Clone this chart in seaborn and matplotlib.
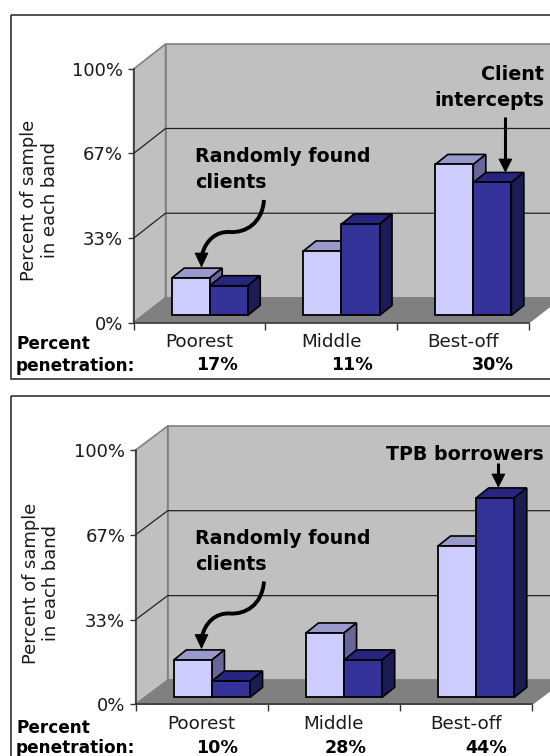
import numpy as np
import pandas as pd
import matplotlib
matplotlib.use('Agg')
import matplotlib.pyplot as plt
import seaborn as sns
from matplotlib.patches import Polygon, Rectangle, PathPatch
from matplotlib.path import Path
from matplotlib.transforms import Affine2D

bands = ['Poorest', 'Middle', 'Best-off']
top_random = [14.7, 25.4, 59.5]
top_intercepts = [11.7, 36.0, 52.4]
top_penetration = ['17%', '11%', '30%']
bottom_random = [14.7, 25.3, 59.5]
bottom_tpb = [6.4, 14.7, 78.4]
bottom_penetration = ['10%', '28%', '44%']
ytick_vals = [0, 33.3, 66.7, 100]
ytick_labels = ['0%', '33%', '67%', '100%']

W, H = 550, 756
LIGHT, DARK = '#CCCCFF', '#333399'
LIGHT_TOP, LIGHT_SIDE = '#9999CC', '#666699'
DARK_TOP, DARK_SIDE = '#262680', '#1C1C54'
WALL, FLOOR, EDGE = '#C0C0C0', '#808080', '#808080'
INK = '#1a1a1a'

sns.set_style('white')
plt.rcParams['font.family'] = ['DejaVu Sans']
fig = plt.figure(figsize=(W / 100, H / 100), dpi=100, facecolor='white')
# overlay in image pixels, y down
px = Affine2D().scale(1, -1).translate(0, H)


def fx(x):
    return x / W


def fy(y):
    return 1 - y / H


def arrow(path_pts, codes, tip, head=13, lw=2.3):
    fig.add_artist(PathPatch(Path(path_pts, codes), fc='none', ec='black', lw=lw,
                             transform=px, zorder=20, capstyle='butt'))
    tx, ty = tip
    fig.add_artist(Polygon([(tx, ty), (tx - 6.5, ty - head), (tx + 6.5, ty - head)],
                           closed=True, fc='black', ec='black', lw=0.5, transform=px, zorder=21))


def panel(left, right, y0, y100, floor_dy, base_up, vals_a, vals_b, pen, pen_x, pen_y,
          band_y, lab_x, lab_y, pct_y, name_b):
    ax = fig.add_axes([fx(left), fy(y0), (right - left) / W, (y0 - y100) / H])
    df = pd.DataFrame({'band': bands * 2,
                       'pct': vals_a + vals_b,
                       'group': ['Randomly found clients'] * 3 + [name_b] * 3})
    sns.barplot(data=df, x='band', y='pct', hue='group', palette=[LIGHT, DARK], saturation=1,
                width=0.577, gap=0, edgecolor='black', linewidth=1.3, legend=False, ax=ax)
    bars = sorted(ax.patches, key=lambda p: p.get_x())
    ax.set_xlim(-0.5, 2.5)
    ax.set_ylim(0, 100)
    ax.patch.set_alpha(0)
    ux = 3 / (right - left)
    uy = 100 / (y0 - y100)
    wx, wy = 32 * ux, floor_dy * uy

    # chart box, walls and floor
    ax.add_patch(Polygon([(-0.5, 0), (-0.5 + wx, wy), (-0.5 + wx, 100 + wy), (-0.5, 100)],
                         fc=WALL, ec=EDGE, lw=1.2, zorder=0.5, clip_on=False))
    ax.add_patch(Rectangle((-0.5 + wx, wy), 3, 100, fc=WALL, ec=EDGE, lw=1.2, zorder=0.6, clip_on=False))
    ax.add_patch(Polygon([(-0.5, 0), (-0.5 + wx, wy), (2.5 + wx, wy), (2.5, 0)],
                         fc=FLOOR, ec=FLOOR, lw=1, zorder=0.7, clip_on=False))
    for v in ytick_vals[1:3]:
        ax.plot([-0.5, -0.5 + wx, 2.5 + wx], [v, v + wy, v + wy], color='#222222', lw=0.9,
                zorder=0.8, clip_on=False)

    # bars get their depth faces, shifted back off the axis floor
    shift = ax.transData + Affine2D().translate(10.2, base_up)
    dx, dy = 12.5 * ux, 10 * uy
    for i, b in enumerate(bars):
        x0, w, h = b.get_x(), b.get_width(), b.get_height()
        light = i % 2 == 0
        z = 3 + i
        b.set_transform(shift)
        b.set_zorder(z + 0.2)
        b.set_clip_on(False)
        ax.add_patch(Polygon([(x0, h), (x0 + dx, h + dy), (x0 + w + dx, h + dy), (x0 + w, h)],
                             fc=LIGHT_TOP if light else DARK_TOP, ec='black', lw=1.2,
                             transform=shift, zorder=z, clip_on=False))
        ax.add_patch(Polygon([(x0 + w, 0), (x0 + w + dx, dy), (x0 + w + dx, h + dy), (x0 + w, h)],
                             fc=LIGHT_SIDE if light else DARK_SIDE, ec='black', lw=1.2,
                             transform=shift, zorder=z, clip_on=False))

    # axes furniture
    sns.despine(ax=ax, top=True, right=True)
    for s in ('left', 'bottom'):
        ax.spines[s].set_color('#333333')
        ax.spines[s].set_linewidth(1.1)
        ax.spines[s].set_zorder(2)
    ax.set_xlabel('')
    ax.set_ylabel('')
    ax.set_yticks(ytick_vals, ytick_labels, fontsize=13, color=INK)
    ax.set_xticks([-0.5, 0.5, 1.5, 2.5], ['', '', '', ''])
    ax.tick_params(axis='y', left=True, length=4, width=1, color='#333333', pad=3.5)
    ax.tick_params(axis='x', bottom=True, length=5, width=1, color='#333333')
    for c, name in enumerate(bands):
        fig.text(fx(left + (c + 0.5) * (right - left) / 3), fy(band_y), name, ha='center', va='center',
                 fontsize=13.2, color=INK)

    fig.text(fx(lab_x), fy(lab_y), 'Percent of sample\nin each band', rotation=90, ha='center',
             va='center', ma='center', fontsize=12.9, color=INK, linespacing=1.15)
    fig.text(fx(16), fy(pct_y[0]), 'Percent', fontsize=12.2, fontweight='bold', va='center', color='black')
    fig.text(fx(16), fy(pct_y[1]), 'penetration:', fontsize=12.2, fontweight='bold', va='center', color='black')
    for s, x in zip(pen, pen_x):
        fig.text(fx(x), fy(pen_y), s, fontsize=12.6, fontweight='bold', ha='center', va='center', color='black')
    return ax


panel(133.6, 529, 322.7, 69, 25, 7.3, top_random, top_intercepts, top_penetration,
      [217, 352, 493], 365, 342, 39.5, 200, (344, 366), 'Client intercepts')
panel(135.7, 532, 704.3, 450, 24, 7, bottom_random, bottom_tpb, bottom_penetration,
      [217, 345.5, 486.5], 748, 724, 41, 583, (728, 748), 'TPB borrowers')

# panel frames, both run off the canvas
fig.add_artist(Rectangle((10.8, 14.7), 600, 364.3, fc='none', ec='#222222', lw=1.1, transform=px, zorder=15))
fig.add_artist(Rectangle((10.8, 396), 600, 400, fc='none', ec='#222222', lw=1.1, transform=px, zorder=15))

# notes
note = dict(fontsize=13.7, fontweight='bold', color='black', va='center', zorder=22)
for y1, y2 in ((157, 183), (539, 565)):
    fig.text(fx(195), fy(y1), 'Randomly found', ha='left', **note)
    fig.text(fx(195), fy(y2), 'clients', ha='left', **note)
fig.text(fx(544), fy(75), 'Client', ha='right', **note)
fig.text(fx(544), fy(100), 'intercepts', ha='right', **note)
fig.text(fx(544), fy(454), 'TPB borrowers', ha='right', **note)

curl = [Path.MOVETO, Path.CURVE4, Path.CURVE4, Path.CURVE4, Path.CURVE4, Path.CURVE4, Path.CURVE4]
for dy in (0, 381.5):
    pts = [(264, 200 + dy), (262, 224 + dy), (245, 233 + dy), (230, 232 + dy),
           (215, 231 + dy), (205, 242 + dy), (202, 255 + dy)]
    arrow(pts, curl, (201.5, 267 + dy), head=14, lw=2.8)
arrow([(505.4, 117), (505.4, 160)], [Path.MOVETO, Path.LINETO], (505.4, 172), lw=2.2)
arrow([(498.4, 463), (498.4, 476)], [Path.MOVETO, Path.LINETO], (498.4, 487), lw=2.2)

fig.savefig('out.png', dpi=100)
